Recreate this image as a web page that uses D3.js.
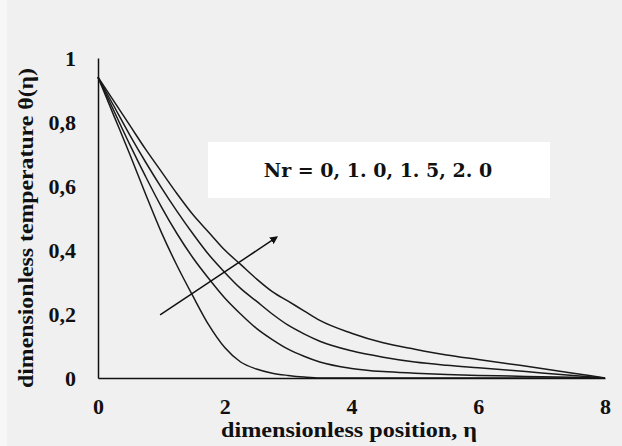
<!DOCTYPE html>
<html>
<head>
<meta charset="utf-8">
<script src="https://cdn.jsdelivr.net/npm/d3@7/dist/d3.min.js"></script>
<style>
  html, body { margin: 0; padding: 0; background: #f0f0f0; }
  svg { display: block; }
  text { font-family: "Liberation Serif", "Times New Roman", serif; font-weight: bold; fill: #111; }
</style>
</head>
<body>
<svg id="chart" width="622" height="446"></svg>
<script>
// η positions shared by every profile
const eta = [0, 0.25, 0.5, 0.75, 1.0, 1.25, 1.5, 1.75, 2.0, 2.25, 2.5, 2.75, 3.0, 3.25, 3.5,
             4.0, 4.5, 5.0, 5.5, 6.0, 6.5, 7.0, 7.5, 8.0];

// temperature profiles θ(η) for each radiation parameter Nr
const nrLabels = ["0", "1.0", "1.5", "2.0"];
const thetaNr0  = [0.94, 0.82, 0.70, 0.575, 0.455, 0.35, 0.255, 0.165, 0.095, 0.05, 0.028, 0.015, 0.008, 0.003, 0.0,
                   0, 0, 0, 0, 0, 0, 0, 0, 0];
const thetaNr10 = [0.94, 0.835, 0.73, 0.63, 0.535, 0.45, 0.375, 0.31, 0.25, 0.20, 0.155, 0.12, 0.09, 0.068, 0.05,
                   0.03, 0.02, 0.015, 0.011, 0.008, 0.006, 0.004, 0.002, 0.0];
const thetaNr15 = [0.94, 0.85, 0.76, 0.675, 0.595, 0.52, 0.45, 0.385, 0.33, 0.28, 0.24, 0.20, 0.165, 0.138, 0.115,
                   0.085, 0.065, 0.05, 0.04, 0.032, 0.024, 0.016, 0.008, 0.0];
const thetaNr20 = [0.94, 0.865, 0.79, 0.715, 0.645, 0.575, 0.51, 0.455, 0.40, 0.355, 0.31, 0.27, 0.24, 0.21, 0.18,
                   0.14, 0.11, 0.09, 0.072, 0.058, 0.044, 0.03, 0.015, 0.0];
const series = [thetaNr0, thetaNr10, thetaNr15, thetaNr20];

// axis ticks
const xTicks = [0, 2, 4, 6, 8];
const yTicks = [0, 0.2, 0.4, 0.6, 0.8, 1];
const yTickLabels = ["0", "0,2", "0,4", "0,6", "0,8", "1"];

// direction arrow for increasing Nr: [η, θ] start and end
const arrowFrom = [0.98, 0.197];
const arrowTo = [2.82, 0.44];

const svg = d3.select("#chart");
const margin = { left: 98, right: 17, top: 58, bottom: 68 };
const W = 622, H = 446;

svg.append("rect").attr("width", W).attr("height", H).attr("fill", "#f0f0f0");
svg.append("rect").attr("width", 7).attr("height", H).attr("fill", "#f7f7f7");

const x = d3.scaleLinear().domain([0, 8]).range([margin.left, W - margin.right]);
const y = d3.scaleLinear().domain([0, 1]).range([H - margin.bottom, margin.top]);

// legend box
svg.append("rect")
  .attr("x", 208).attr("y", 142).attr("width", 342).attr("height", 56)
  .attr("fill", "#ffffff");
svg.append("text")
  .attr("x", 378).attr("y", 177)
  .attr("text-anchor", "middle")
  .style("font-family", "'DejaVu Serif', serif")
  .style("font-size", "19px")
  .text("Nr = " + nrLabels.map(d => d.replace(".", ". ")).join(", "));

// profiles
const line = d3.line()
  .x((d, i) => x(eta[i]))
  .y(d => y(d))
  .curve(d3.curveMonotoneX);

svg.append("g").selectAll("path")
  .data(series)
  .join("path")
  .attr("d", line)
  .attr("fill", "none")
  .attr("stroke", "#1a1a1a")
  .attr("stroke-width", 1.5);

// axes (lines only, labels drawn separately)
const xAxis = d3.axisBottom(x).tickValues(xTicks).tickSize(0).tickFormat(d => d);
const gx = svg.append("g").attr("transform", `translate(0,${y(0)})`).call(xAxis);
gx.select(".domain").attr("stroke", "#111").attr("stroke-width", 1.5);
gx.selectAll("text")
  .attr("dy", null).attr("y", 36)
  .style("font-size", "22px")
  .style("font-family", "'Liberation Serif', serif")
  .style("font-weight", "bold")
  .attr("fill", "#111");

const yAxis = d3.axisLeft(y).tickValues(yTicks).tickSize(0)
  .tickFormat((d, i) => yTickLabels[i]);
const gy = svg.append("g").attr("transform", `translate(${x(0)},0)`).call(yAxis);
gy.select(".domain").attr("stroke", "#111").attr("stroke-width", 1.5);
gy.selectAll("text")
  .attr("x", -22).attr("dy", "0.35em")
  .style("font-size", "22px")
  .style("font-family", "'Liberation Serif', serif")
  .style("font-weight", "bold")
  .attr("fill", "#111");

// axis titles
svg.append("text")
  .attr("x", 349).attr("y", 437)
  .attr("text-anchor", "middle")
  .attr("textLength", 256).attr("lengthAdjust", "spacingAndGlyphs")
  .style("font-size", "20px")
  .text("dimensionless position, η");

svg.append("text")
  .attr("transform", "translate(33,228) rotate(-90)")
  .attr("text-anchor", "middle")
  .attr("textLength", 320).attr("lengthAdjust", "spacingAndGlyphs")
  .style("font-size", "21px")
  .text("dimensionless temperature θ(η)");

// arrow
svg.append("defs").append("marker")
  .attr("id", "head")
  .attr("viewBox", "0 0 10 10")
  .attr("refX", 8).attr("refY", 5)
  .attr("markerWidth", 8).attr("markerHeight", 8)
  .attr("markerUnits", "userSpaceOnUse")
  .attr("orient", "auto")
  .append("path").attr("d", "M0,0 L10,5 L0,10 Z").attr("fill", "#111");

svg.append("line")
  .attr("x1", x(arrowFrom[0])).attr("y1", y(arrowFrom[1]))
  .attr("x2", x(arrowTo[0])).attr("y2", y(arrowTo[1]))
  .attr("stroke", "#111").attr("stroke-width", 1.5)
  .attr("marker-end", "url(#head)");
</script>
</body>
</html>
